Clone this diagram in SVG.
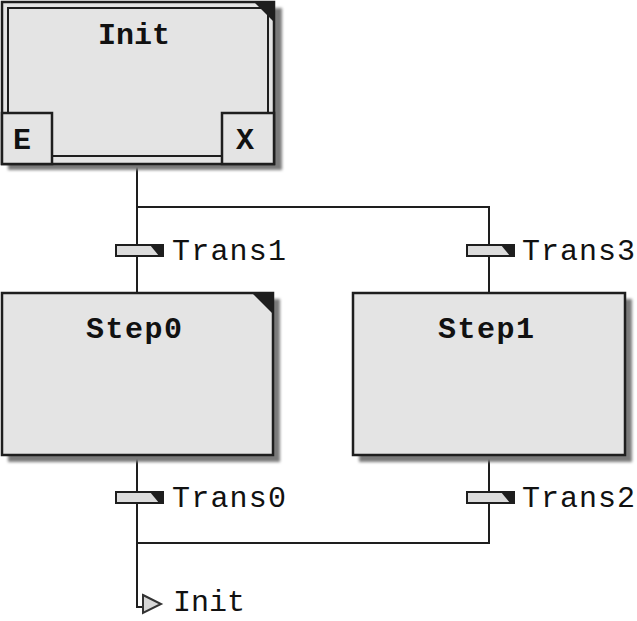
<svg xmlns="http://www.w3.org/2000/svg" width="637" height="621" viewBox="0 0 637 621">
<style>
.box{fill:#e4e4e4;stroke:#1e1e1e;stroke-width:2.5}
.inner{fill:none;stroke:#1e1e1e;stroke-width:2}
.shadow{fill:#7a7a7a;filter:url(#blur)}
.title{font-family:"Liberation Mono","DejaVu Sans Mono",monospace;font-weight:bold;font-size:30px;fill:#111;text-anchor:middle}
.lbl{font-family:"Liberation Mono","DejaVu Sans Mono",monospace;font-size:30px;fill:#111}
.corner{fill:#1e1e1e}
.wire{fill:none;stroke:#1e1e1e;stroke-width:2}
.tbar{fill:#dcdcdc;stroke:#1e1e1e;stroke-width:2}
</style>
<defs>
<filter id="blur" x="-5%" y="-5%" width="110%" height="110%"><feGaussianBlur stdDeviation="1.5"/></filter>
<g id="tr">
<rect class="tbar" x="0" y="0" width="47" height="11"/>
<polygon class="corner" points="34,0 47,0 47,11 43,11"/>
</g>
</defs>
<rect width="637" height="621" fill="#fff"/>
<g id="connectors">
<path class="wire" d="M137,164 V293"/>
<path class="wire" d="M137,207 H489 V293"/>
<path class="wire" d="M137,455 V607 H143"/>
<path class="wire" d="M489,455 V543 H137"/>
<polygon points="143,595 161,604 143,613" fill="#d8d8d8" stroke="#333" stroke-width="2"/>
</g>
<g id="Init">
<rect class="shadow" x="8" y="8" width="274" height="162"/>
<rect class="box" x="2" y="2" width="272" height="162"/>
<rect class="inner" x="8" y="8" width="260" height="148"/>
<polygon class="corner" points="254,2 274,2 274,22"/>
<rect class="box" x="2" y="113" width="50" height="51"/>
<rect class="box" x="222" y="113" width="52" height="51"/>
<text class="title" x="134" y="44">Init</text>
<text class="title" x="22" y="149" font-size="26">E</text>
<text class="title" x="245" y="149" font-size="26">X</text>
</g>
<g id="Step0">
<rect class="shadow" x="8" y="299" width="272" height="163"/>
<rect class="box" x="2" y="293" width="271" height="162"/>
<polygon class="corner" points="252,293 273,293 273,314"/>
<text class="title" x="134" y="338" textLength="96">Step0</text>
</g>
<g id="Step1">
<rect class="shadow" x="359" y="299" width="273" height="163"/>
<rect class="box" x="353" y="293" width="272" height="162"/>
<text class="title" x="486" y="338" textLength="96">Step1</text>
</g>
<g id="Trans1">
<use href="#tr" x="116" y="245"/>
<text class="lbl" x="172" y="260" textLength="114">Trans1</text>
</g>
<g id="Trans3">
<use href="#tr" x="467" y="245"/>
<text class="lbl" x="522" y="260" textLength="113">Trans3</text>
</g>
<g id="Trans0">
<use href="#tr" x="116" y="492"/>
<text class="lbl" x="172" y="507" textLength="114">Trans0</text>
</g>
<g id="Trans2">
<use href="#tr" x="467" y="492"/>
<text class="lbl" x="522" y="507" textLength="113">Trans2</text>
</g>
<g id="JumpInit">
<text class="lbl" x="173" y="611" font-size="27" textLength="72">Init</text>
</g>
</svg>
